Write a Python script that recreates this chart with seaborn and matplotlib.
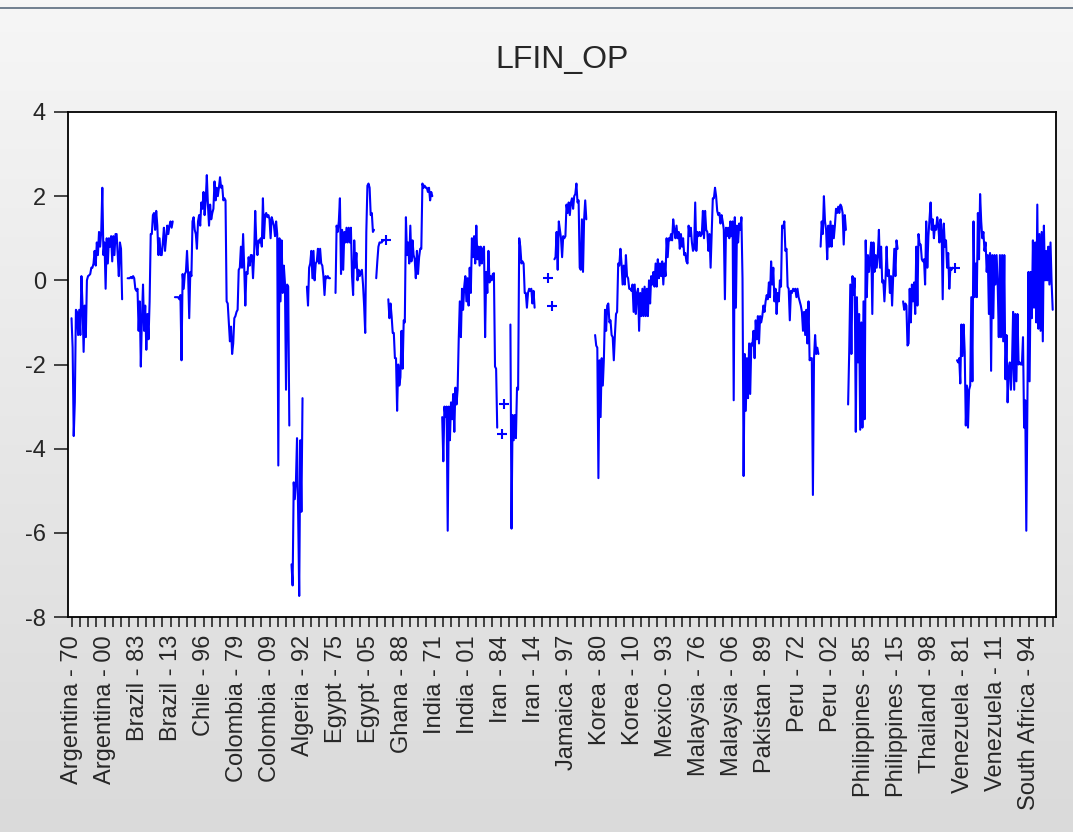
import numpy as np
import pandas as pd
import seaborn as sns
import matplotlib.pyplot as plt
from matplotlib.colors import LinearSegmentedColormap
from matplotlib.lines import Line2D

NA = np.nan

countries = ["Argentina", "Brazil", "Chile", "Colombia", "Algeria", "Egypt", "Ghana",
             "India", "Iran", "Jamaica", "Korea", "Mexico", "Malaysia", "Pakistan",
             "Peru", "Philippines", "Thailand", "Venezuela", "South Africa"]
years = list(range(1970, 2017))

# LFIN_OP, one value per year 1970-2016
argentina = [-0.9, -1.6, -3.7, -2.9, -0.7, -0.75, -1.3, -0.7, -1.3, 0.1,
             -0.6, -1.7, -0.6, -1.35, 0.0, 0.1, 0.12, 0.15, 0.3, 0.3,
             0.4, 0.7, 0.35, 0.9, 0.6, 1.15, 0.8, 1.15, 2.2, 0.6,
             0.9, -0.2, 1.0, 0.4, 1.0, 0.8, 1.05, 0.45, 1.05, 0.6,
             1.1, 1.1, 0.6, 0.1, 0.9, 0.75, -0.45]
brazil = [NA, NA, NA, NA, 0.05, 0.05, 0.05, 0.08, 0.05, 0.1,
          0.05, -0.2, -0.25, -0.2, -1.2, -0.5, -2.05, -0.9, -0.1, -1.2,
          -0.6, -1.65, -0.8, -1.4, -0.5, 1.1, 1.1, 1.55, 1.6, 1.2,
          1.65, 1.3, 0.6, 1.0, 0.6, 0.6, 0.9, 1.25, 0.7, 1.0,
          1.3, 1.1, 1.3, 1.4, 1.25, 1.4, NA]
chile = [-0.4, -0.4, -0.4, -0.4, -0.45, -0.35, -1.9, 0.15, -0.2, 0.15,
         0.2, 0.7, 0.15, -0.9, 0.2, 0.1, 1.4, 1.5, 1.2, 1.1,
         0.75, 1.4, 1.55, 1.3, 1.85, 1.7, 2.1, 1.55, 1.9, 2.5,
         1.8, 1.3, 1.8, 1.45, 1.6, 1.7, 2.35, 1.9, 2.2, 2.0,
         2.2, 2.45, 2.2, 2.25, 1.9, 1.95, 1.9]
colombia = [-0.5, -0.55, -1.0, -1.45, -1.1, -1.75, -1.5, -0.9, -0.85, -0.75,
            -0.7, 0.25, 0.3, 0.8, 0.3, 1.1, 0.3, -0.6, 0.2, 0.15,
            0.55, 0.35, 0.6, 0.6, 0.05, 0.6, 1.65, 0.9, 0.6, 0.95,
            0.9, 1.0, 0.8, 1.95, 1.0, 1.55, 1.6, 1.5, 1.55, 1.45,
            1.0, 1.5, 1.4, 1.3, 1.05, 1.4, 1.1]
algeria = [-4.4, 1.0, -0.5, 0.95, -0.3, 0.35, -0.05, -2.6, -0.1, -0.15,
           -3.45, NA, -6.75, -7.25, -4.8, -5.2, -4.8, -3.75, -5.5, -7.5,
           -3.8, -5.5, -2.8, NA, NA, NA, -0.15, -0.6, 0.3, 0.4,
           0.7, 0.05, 0.7, 0.0, 0.4, 0.45, 0.75, 0.4, 0.75, 0.4,
           0.35, 0.1, -0.35, 0.1, 0.05, 0.1, 0.05]
egypt = [0.05, NA, NA, NA, NA, -0.3, 1.3, 1.15, 1.4, 1.95,
         0.15, 1.2, 0.25, 1.15, 0.9, 1.25, 0.9, 1.25, 0.9, 1.25,
         0.1, -0.35, 0.95, 0.3, 0.65, 0.0, 0.25, 0.1, 0.2, 0.25,
         -0.1, -0.6, -1.25, 1.15, 2.25, 2.3, 2.2, 1.55, 1.6, 1.15,
         1.2, NA, 0.05, 0.45, 0.8, 0.9, 0.9]
ghana = [0.9, 0.95, 0.95, NA, 0.95, NA, -0.45, -0.9, -0.55, -0.85,
         -1.25, -1.25, -1.85, -1.85, -3.1, -2.0, -2.5, -2.3, -1.2, -2.1,
         -0.95, -1.0, 1.5, 0.6, 0.9, 0.4, 1.3, 0.45, 0.95, 0.6,
         0.5, 0.05, 0.7, 0.15, 0.55, 0.75, 0.75, 2.3, 2.2, 2.25,
         2.2, 2.2, 2.1, 2.2, 1.9, 2.1, 2.0]
india = [NA, NA, NA, NA, NA, NA, NA, NA, -3.25, -4.3,
         -3.0, -3.25, -3.0, -5.95, -3.0, -3.8, -2.9, -3.3, -2.7, -3.6,
         -2.55, -2.95, -2.6, -1.4, -0.5, -1.35, -0.2, -0.7, -0.15, 0.1,
         -0.5, 0.05, -0.6, 0.3, -0.3, 1.0, 0.55, 1.05, 0.4, 1.3,
         0.5, 0.8, 0.35, 0.8, 0.4, 0.75, 0.8]
iran = [-1.35, 0.2, -0.3, 0.7, -0.05, 0.1, 0.0, 0.15, 0.17, -2.05,
        -2.1, -3.5, NA, NA, NA, -3.65, NA, -2.95, NA, NA,
        NA, NA, NA, -1.05, -5.9, -3.2, -3.8, -3.2, -3.75, -2.55,
        -2.6, 1.0, 0.8, 0.4, 0.45, 0.4, -0.3, -0.3, -0.65, -0.3,
        -0.2, -0.25, -0.2, -0.55, -0.25, -0.65, NA]
jamaica = [NA, NA, NA, NA, NA, NA, NA, NA, NA, NA,
           0.05, NA, NA, NA, -0.6, NA, 0.5, 0.55, 1.15, 0.25,
           1.4, 1.2, 1.0, 0.55, 1.05, 1.0, 1.05, 1.8, 1.6, 1.85,
           1.55, 1.85, 1.95, 1.7, 2.0, 2.05, 2.3, 1.85, 1.9, 0.3,
           0.25, 1.45, 0.2, 1.45, 1.9, 1.45, NA]
korea = [NA, NA, NA, NA, NA, NA, -1.3, -1.55, -1.6, -4.7,
         -1.9, -3.25, -1.85, -2.5, -1.85, -0.7, -1.2, -0.6, -0.55, -1.0,
         -0.95, -1.3, -1.35, -1.9, -1.3, -0.8, -0.75, 0.4, 0.35, 0.75,
         0.4, -0.1, 0.35, -0.1, 0.6, 0.1, 0.05, -0.2, -0.2, -0.25,
         -0.1, -0.75, -0.1, -0.8, -0.3, -0.2, -1.2]
mexico = [-0.3, -0.85, -0.2, -0.85, -0.15, -0.85, -0.2, -0.85, 0.0, -0.55,
          0.1, -0.1, 0.2, -0.15, 0.4, -0.15, 0.5, 0.05, 0.4, 0.1,
          0.45, -0.1, 0.4, 0.1, 1.0, 0.55, 1.0, 0.95, 1.1, 0.95,
          1.45, 1.2, 1.0, 1.3, 1.0, 1.15, 0.75, 1.1, 0.8, 1.0,
          0.6, 0.65, 0.45, 0.4, 1.3, 1.05, 1.25]
malaysia = [0.9, 0.7, 0.75, 1.85, 0.7, 1.15, 1.05, 1.15, 1.05, 1.1,
            1.65, 1.0, 1.65, 1.2, 1.15, 0.7, 1.1, 0.3, 1.15, 1.95,
            1.95, 2.2, 2.0, 1.65, 1.55, 1.6, 1.35, 1.55, 1.4, 1.2,
            -0.45, 1.25, 1.05, 1.25, 1.0, 1.4, 1.05, 1.4, -2.85, 1.5,
            -0.65, 1.3, 0.9, 1.35, 1.2, 1.5, 0.05]
pakistan = [-4.65, -1.75, -3.1, -1.85, -2.8, -1.5, -2.7, -1.5, -1.55, -1.2,
            -1.85, -0.95, -1.4, -0.85, -1.5, -0.85, -1.0, -0.85, -0.6, -0.75,
            -0.5, -0.35, -0.45, -0.05, -0.4, 0.45, -0.1, 0.3, -0.5, -0.2,
            -0.8, -0.3, -0.5, 0.0, -0.15, 1.3, 1.25, 1.4, 0.7, 0.75,
            -0.15, -0.2, -0.95, -0.25, -0.3, -0.2, -0.25]
peru = [-0.2, -0.4, -0.2, -0.4, -0.5, -0.6, -0.75, -1.2, -0.75, -1.3,
        -0.7, -1.5, -0.5, -1.9, -1.85, -1.85, -5.1, -1.85, -1.3, -1.75,
        -1.6, -1.75, NA, 0.8, 1.4, 1.1, 2.0, 1.4, 1.2, 0.5,
        1.3, 0.8, 1.4, 0.8, 1.3, 1.0, 1.3, 1.7, 1.6, 1.75,
        1.6, 1.8, 1.75, 1.6, 0.85, 1.55, 1.2]
philippines = [NA, -2.95, -1.7, -0.1, -1.75, 0.1, -0.35, 0.05, -3.6, -0.4,
               -1.95, -0.8, -3.55, -1.0, -3.5, -0.5, -3.3, 0.95, -0.4, 0.6,
               0.2, 0.55, 0.9, -0.8, 0.9, 0.2, 0.6, 0.3, 0.6, 1.2,
               0.3, 0.8, -0.05, 0.0, -0.5, 0.0, 0.8, 0.1, 0.25, -0.3,
               0.1, -0.6, 0.1, 0.75, 0.1, 0.95, 0.75]
thailand = [NA, NA, NA, NA, -0.5, -0.7, -0.55, -0.6, -1.55, -1.5,
            -0.2, -1.0, -0.1, -0.5, -0.05, -0.8, 0.8, -0.6, 1.1, 0.85,
            0.85, 0.5, 0.45, 0.5, -0.1, 1.4, 0.3, 1.05, 1.45, 1.85,
            1.2, 1.45, 1.0, 1.3, 1.2, 1.5, 1.3, 0.9, 1.45, 1.2,
            -0.45, 1.35, 0.8, 0.95, 0.3, 0.65, -0.2]
venezuela = [0.3, 0.25, 0.3, NA, 0.3, NA, -1.9, -1.95, -1.85, -2.45,
             -1.05, -1.8, -1.05, -1.7, -3.45, -2.5, -3.5, -2.6, -2.5, -0.4,
             -2.4, 1.4, -0.4, 0.4, -0.4, 1.6, 0.5, 2.05, 1.4, 1.0,
             1.15, 0.7, 0.9, 0.2, 0.6, -0.8, 0.65, -2.15, 0.6, -0.9,
             0.6, -0.1, 0.6, -0.1, -1.35, 0.6, -1.35]
south_africa = [0.6, -1.45, 0.6, -2.35, -1.3, -2.9, -2.1, -1.95, -2.6, -2.0,
                -0.75, -2.6, -0.8, -2.4, -0.8, -2.0, -1.95, -2.0, -2.0, -1.35,
                -3.5, -2.85, -5.95, -2.9, 0.2, -2.4, 0.2, -0.9, 0.95, -0.65,
                0.9, -1.0, 1.8, -1.15, 1.1, -1.2, 1.15, -1.45, 1.3, 0.0,
                0.7, 0.0, 0.8, -0.1, 0.9, -0.05, -0.7]

series = [argentina, brazil, chile, colombia, algeria, egypt, ghana, india, iran,
          jamaica, korea, mexico, malaysia, pakistan, peru, philippines, thailand,
          venezuela, south_africa]

rows = []
for c, vals in zip(countries, series):
    for y, v in zip(years, vals):
        rows.append((c, y, v))
df = pd.DataFrame(rows, columns=["country", "year", "lfin_op"])
df["obs"] = np.arange(len(df))
# break the line where values are missing
df["seg"] = df["lfin_op"].isna().cumsum()
valid = df.dropna(subset=["lfin_op"])
seg_size = valid.groupby("seg")["obs"].transform("size")
single = valid[seg_size == 1]

sns.set_style("ticks")
plt.rcParams["font.family"] = ["Liberation Sans", "DejaVu Sans"]
plt.rcParams["axes.unicode_minus"] = False

fig = plt.figure(figsize=(10.73, 8.32), dpi=100)

bg = fig.add_axes([0, 0, 1, 1], zorder=-10)
grad = np.linspace(0, 1, 256).reshape(-1, 1)
cmap = LinearSegmentedColormap.from_list("bg", ["#f6f6f6", "#dadada"])
bg.imshow(grad, aspect="auto", cmap=cmap, extent=[0, 1, 0, 1])
bg.axis("off")
fig.add_artist(Line2D([0, 1], [1 - 8 / 832] * 2, color="#5b6b7e", lw=1.2))

ax = fig.add_axes([68 / 1073, 1 - 617 / 832, 988 / 1073, 505 / 832])
ax.set_facecolor("white")

sns.lineplot(data=valid, x="obs", y="lfin_op", units="seg", estimator=None,
             color="#0000ff", lw=1.5, ax=ax)
sns.scatterplot(data=single, x="obs", y="lfin_op", marker="+", s=50,
                color="#0000ff", linewidth=1.5, ax=ax)

n = len(df)
major = df["obs"].iloc[::30]
labels = [f"{c} - {y % 100:02d}" for c, y in
          zip(df["country"].iloc[::30], df["year"].iloc[::30])]
ax.set_xticks(major)
ax.set_xticklabels(labels, rotation=90, fontsize=17)
ax.set_xticks(np.arange(0, n, 7.5), minor=True)
ax.set_xlim(-3.2, 895)
ax.set_ylim(-8, 4)
ax.set_yticks(range(-8, 5, 2))
ax.tick_params(axis="y", length=10, width=1.2, pad=6, labelsize=17)
ax.tick_params(axis="x", which="both", length=7, width=1.2, pad=6)
for s in ax.spines.values():
    s.set_linewidth(1.3)
    s.set_color("black")
ax.set_xlabel("")
ax.set_ylabel("")
ax.set_title("LFIN_OP", fontsize=23, pad=32)

fig.savefig("out.png", dpi=100)
